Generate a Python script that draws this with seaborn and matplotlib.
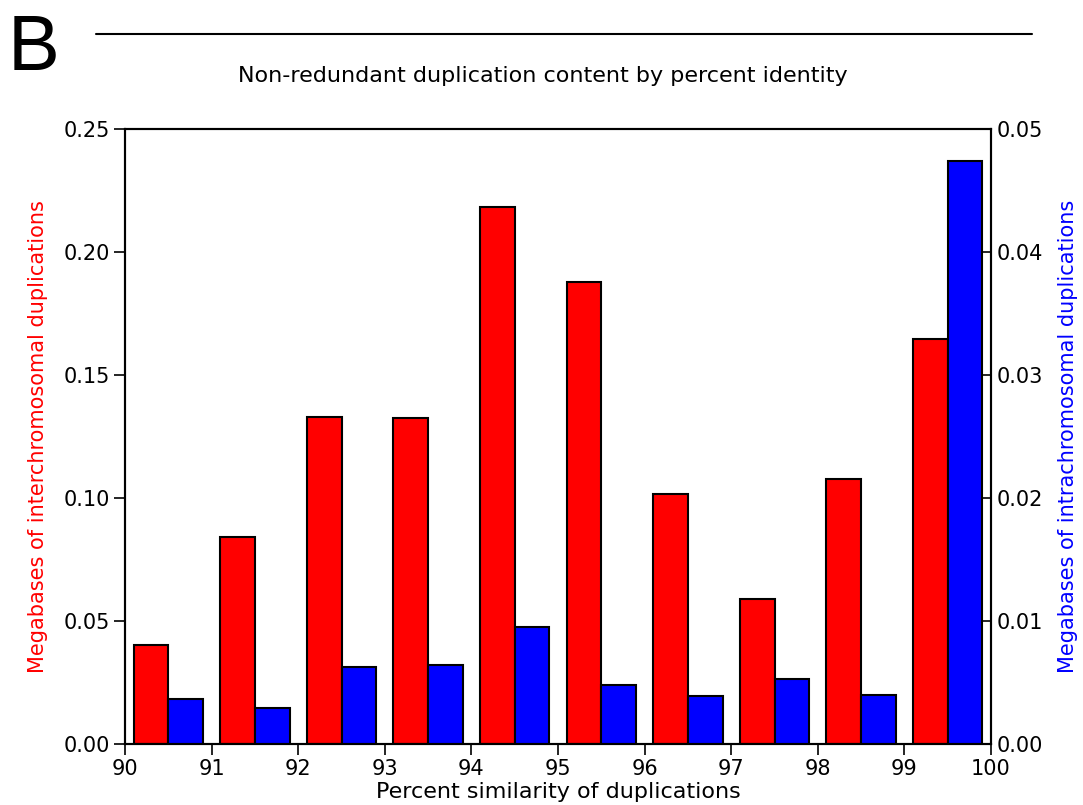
import matplotlib
matplotlib.use("Agg")
import matplotlib.pyplot as plt
import seaborn as sns
import numpy as np
import pandas as pd

# Percent-identity bins (lower edge of each 1% bin)
bins = [90, 91, 92, 93, 94, 95, 96, 97, 98, 99]
# Megabases of interchromosomal duplications per bin (left axis)
inter_mb = [0.0402, 0.0841, 0.1329, 0.1325, 0.2183, 0.1878, 0.1016, 0.0589, 0.1077, 0.1646]
# Megabases of intrachromosomal duplications per bin (right axis)
intra_mb = [0.00366, 0.00293, 0.00626, 0.00642, 0.00951, 0.00480, 0.00390, 0.00528, 0.00398, 0.0474]

left_ticks = [0.00, 0.05, 0.10, 0.15, 0.20, 0.25]
right_ticks = [0.00, 0.01, 0.02, 0.03, 0.04, 0.05]
x_ticks = list(range(90, 101))

sns.set_theme(style="white")
plt.rcParams["font.family"] = ["DejaVu Sans"]

inter_df = pd.DataFrame({"pos": np.array(bins) + 0.3, "mb": inter_mb})
intra_df = pd.DataFrame({"pos": np.array(bins) + 0.7, "mb": intra_mb})

fig = plt.figure(figsize=(10.83, 8.05), dpi=100)
ax = fig.add_axes([125 / 1083, 1 - 744 / 805, (991 - 125) / 1083, (744 - 129) / 805])
ax2 = ax.twinx()

sns.barplot(data=inter_df, x="pos", y="mb", native_scale=True, width=0.4,
            color="#ff0000", saturation=1, edgecolor="black", linewidth=1.5, ax=ax)
sns.barplot(data=intra_df, x="pos", y="mb", native_scale=True, width=0.4,
            color="#0000ff", saturation=1, edgecolor="black", linewidth=1.5, ax=ax2)

ax.set_xlim(90, 100)
ax.set_ylim(0, 0.25)
ax2.set_ylim(0, 0.05)
ax.set_xticks(x_ticks)
ax.set_xticklabels([str(t) for t in x_ticks])
ax.set_yticks(left_ticks)
ax.set_yticklabels([f"{t:.2f}" for t in left_ticks])
ax2.set_yticks(right_ticks)
ax2.set_yticklabels([f"{t:.2f}" for t in right_ticks])

fs = 15
ax.tick_params(axis="both", direction="out", length=8, width=1.2, color="black",
               labelsize=fs, pad=3, left=True, bottom=True, labelcolor="black")
ax2.tick_params(axis="y", direction="in", length=8, width=1.2, color="black",
                labelsize=fs, pad=4, right=True, labelcolor="black")

for a in (ax, ax2):
    for s in a.spines.values():
        s.set_visible(True)
        s.set_color("black")
        s.set_linewidth(1.5)

ax.set_xlabel("Percent similarity of duplications", fontsize=16, color="black", labelpad=2)
ax.set_ylabel("Megabases of interchromosomal duplications", fontsize=15, color="#ff0000", labelpad=11)
ax2.set_ylabel("Megabases of intrachromosomal duplications", fontsize=15, color="#0000ff", labelpad=11)

fig.text(543 / 1083, 1 - 76 / 805, "Non-redundant duplication content by percent identity",
         ha="center", va="center", fontsize=16, color="black")
fig.text(8 / 1083, 1 - 50 / 805, "B", ha="left", va="center", fontsize=56, color="black",
         family="Liberation Sans")
fig.add_artist(plt.Line2D([96 / 1083, 1032 / 1083], [1 - 34 / 805, 1 - 34 / 805],
                          color="black", linewidth=1.5, transform=fig.transFigure))

fig.savefig("out.png", dpi=100)
